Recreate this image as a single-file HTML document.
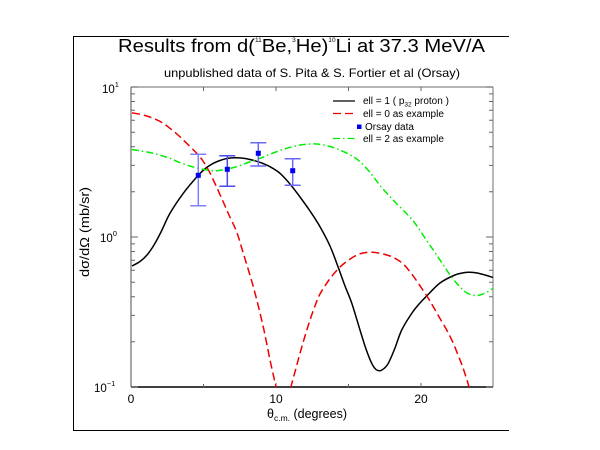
<!DOCTYPE html>
<html><head><meta charset="utf-8"><style>
html,body{margin:0;padding:0;background:#fff;}
svg{display:block;font-family:"Liberation Sans",sans-serif;}
</style></head><body>
<svg id="chart" width="600" height="450" viewBox="0 0 600 450" xmlns="http://www.w3.org/2000/svg">
<rect width="600" height="450" fill="#fff"/>
<!-- outer frame (3 sides) -->
<path d="M509,36.5 H73.5 V430.5 H509" fill="none" stroke="#000" stroke-width="1"/>
<!-- title -->
<text x="118" y="52" font-size="18.5" textLength="367" lengthAdjust="spacingAndGlyphs">Results from d(<tspan font-size="6" dy="-10">11</tspan><tspan dy="10">Be,</tspan><tspan font-size="6" dy="-10">3</tspan><tspan dy="10">He)</tspan><tspan font-size="6" dy="-10">10</tspan><tspan dy="10">Li at 37.3 MeV/A</tspan></text>
<text x="164" y="77" font-size="12" textLength="296" lengthAdjust="spacingAndGlyphs">unpublished data of S. Pita &amp; S. Fortier et al (Orsay)</text>
<defs><clipPath id="pc"><rect x="131" y="87" width="362" height="300"/></clipPath></defs>
<!-- axes -->
<line x1="131" y1="87" x2="493" y2="87" stroke="#888" stroke-width="1.2"/>
<line x1="493" y1="87" x2="493" y2="387" stroke="#888" stroke-width="1.2"/>
<line x1="131" y1="87" x2="131" y2="387" stroke="#888" stroke-width="1.5"/>
<line x1="131" y1="387" x2="493" y2="387" stroke="#000" stroke-width="1.5"/>
<g stroke="#666" stroke-width="1">
<path d="M131,237 h7 M131,87 h7 M131,387 h7"/>
<path d="M131,191.8h4M131,165.4h4M131,146.7h4M131,132.2h4M131,120.3h4M131,110.2h4M131,101.5h4M131,93.9h4
M131,341.8h4M131,315.4h4M131,296.7h4M131,282.2h4M131,270.3h4M131,260.2h4M131,251.5h4M131,243.9h4"/>
<path d="M493,237 h-7 M493,87 h-7 M493,387 h-7"/>
<path d="M493,191.8h-4M493,165.4h-4M493,146.7h-4M493,132.2h-4M493,120.3h-4M493,110.2h-4M493,101.5h-4M493,93.9h-4
M493,341.8h-4M493,315.4h-4M493,296.7h-4M493,282.2h-4M493,270.3h-4M493,260.2h-4M493,251.5h-4M493,243.9h-4"/>
<path d="M203.5,387v-3M276,387v-4M348.5,387v-3M421,387v-4M203.5,87v4M276,87v4M348.5,87v4M421,87v4"/>
</g>
<!-- y tick labels -->
<g font-size="11.5" fill="#000">
<text x="102" y="93">10<tspan font-size="7.5" dy="-6">1</tspan></text>
<text x="100" y="242">10<tspan font-size="7.5" dy="-6">0</tspan></text>
<text x="94" y="392">10<tspan font-size="7.5" dy="-6">−1</tspan></text>
</g>
<!-- x tick labels -->
<g font-size="12" fill="#000" text-anchor="middle">
<text x="131" y="403">0</text>
<text x="276" y="403">10</text>
<text x="421" y="403">20</text>
</g>
<!-- x title -->
<text x="267" y="418" font-size="12.5">θ<tspan font-size="8.5" dy="3">c.m.</tspan><tspan dy="-3"> (degrees)</tspan></text>
<!-- y title -->
<text transform="translate(89,277) rotate(-90)" font-size="12.5" textLength="90" lengthAdjust="spacingAndGlyphs">dσ/dΩ (mb/sr)</text>
<!-- curves -->
<g clip-path="url(#pc)" fill="none" stroke-linejoin="round" stroke-linecap="butt">
<polyline class="sm" stroke="#000" stroke-width="1.5" points="132,266 140,261.5 147,255 154,245 161,232 170,213.3 183.3,193.3 198.3,175.3 206,168 213.3,163.3 220,160.5 228,158.3 236.7,157.7 246,158.6 255,160.8 263,163.5 270,166.7 280,173.3 290,184 300,197 310,211 320,226.7 330,246 338.3,267.5 345,286 351.7,303 360,330 366,349 371.7,363.3 376,369.5 380,370.7 384,368.5 388.3,363.3 395,348 401.7,330 412,313 420,303 426.7,296 440,283 455,275 465,272.5 470,272.3 477,273 485,275 493,277.5"/>
<polyline class="sm" stroke="#ee0000" stroke-width="1.5" stroke-dasharray="8,4" points="132,113 135,113.3 145,115.5 153.3,118.3 162,122.5 170,128.3 178,135 186.7,143.3 196.7,153.3 203,161 210,173 217,188 223.3,202 229,215 236.7,232 243.3,253.3 253.3,286.7 261.7,320 266,340 270,360 274,378 276,387 278,400"/>
<polyline class="sm" stroke="#ee0000" stroke-width="1.5" stroke-dasharray="8,4" points="289,400 291,387 295.5,370 300,353.3 305,336 310,320 315,306 320,294 329,280 338,269 346,262 355,256 363,253 371.7,252.3 381,253.5 390,256 397,259.5 403.3,264 409,270.5 415,278.5 421.5,288 428.3,298.3 434,308 440,318.5 447,330.5 453.3,343.3 458,355 462,365 466,377 469,387 472,400"/>
<polyline class="sm" stroke="#00ee00" stroke-width="1.5" stroke-dasharray="7,3,1.5,3" points="132,149.5 140,150.8 153.3,153.3 162,155.8 170,158.3 178,161.8 186.7,165 195,167.5 203.3,169.3 210,170.5 216.7,170.7 226,169.3 236.7,166.7 248,162.5 260,158.3 273,153 286.7,148.3 300,145 308,144.2 316.7,144 326,145.5 335,148 344,151.8 353.3,156.7 361,162.5 368,170 374,177.5 380,185.5 388,194.5 396,203 405,212 413.3,221 418,227.5 423,235 428,242.5 433.3,250 438,257 442,263 446,269 450,275 456,282.5 462,289 468,293.5 475,295.5 480,295 485,293 489,291 493,288.5"/>
</g>
<!-- error bars -->
<g stroke-width="1.5" fill="none">
<path stroke="#8080ff" d="M198.3,154.3 V205.7 M190.3,154.3 h16 M190.3,205.7 h16"/>
<path stroke="#4a4aee" d="M227.3,155.7 V186.3 M219.3,155.7 h16 M219.3,186.3 h16"/>
<path stroke="#6a6af5" d="M258.3,142.7 V166 M250.3,142.7 h16 M250.3,166 h16"/>
<path stroke="#6a6af5" d="M292.7,158.7 V185.3 M284.7,158.7 h16 M284.7,185.3 h16"/>
</g>
<g fill="#0000ee">
<rect x="195.8" y="172.8" width="5" height="5"/>
<rect x="224.8" y="166.8" width="5" height="5"/>
<rect x="255.8" y="150.8" width="5" height="5"/>
<rect x="290.2" y="168.2" width="5" height="5"/>
</g>
<!-- legend -->
<g font-size="10" fill="#000">
<line x1="333" y1="101" x2="355" y2="101" stroke="#000" stroke-width="1.2"/>
<text x="363" y="104">ell = 1 ( p<tspan font-size="6.5" dy="2.5">32</tspan><tspan dy="-2.5"> proton )</tspan></text>
<line x1="333" y1="113.5" x2="355" y2="113.5" stroke="#ee0000" stroke-width="1.2" stroke-dasharray="8,4"/>
<text x="363" y="117">ell = 0 as example</text>
<rect x="357" y="124.5" width="4.5" height="4.5" fill="#0000ee"/>
<text x="365" y="130">Orsay data</text>
<line x1="333" y1="138.5" x2="355" y2="138.5" stroke="#00ee00" stroke-width="1.2" stroke-dasharray="7,3,1.5,3"/>
<text x="363" y="142">ell = 2 as example</text>
</g>
</svg>
<script>
(function(){
  var ns="http://www.w3.org/2000/svg";
  var pls=document.querySelectorAll("polyline.sm");
  for(var i=0;i<pls.length;i++){
    var pl=pls[i];
    var raw=pl.getAttribute("points").trim().split(/\s+/).map(function(s){var a=s.split(",");return [parseFloat(a[0]),parseFloat(a[1])];});
    if(raw.length<3) continue;
    var d="M"+raw[0][0]+","+raw[0][1];
    for(var k=0;k<raw.length-1;k++){
      var p0=raw[k-1]||raw[k], p1=raw[k], p2=raw[k+1], p3=raw[k+2]||raw[k+1];
      var c1x=p1[0]+(p2[0]-p0[0])/6, c1y=p1[1]+(p2[1]-p0[1])/6;
      var c2x=p2[0]-(p3[0]-p1[0])/6, c2y=p2[1]-(p3[1]-p1[1])/6;
      d+=" C"+c1x.toFixed(2)+","+c1y.toFixed(2)+" "+c2x.toFixed(2)+","+c2y.toFixed(2)+" "+p2[0]+","+p2[1];
    }
    var path=document.createElementNS(ns,"path");
    var attrs=["stroke","stroke-width","stroke-dasharray"];
    for(var j=0;j<attrs.length;j++){var v=pl.getAttribute(attrs[j]); if(v) path.setAttribute(attrs[j],v);}
    path.setAttribute("fill","none");
    path.setAttribute("d",d);
    pl.parentNode.replaceChild(path,pl);
  }
})();
</script>
</body></html>
